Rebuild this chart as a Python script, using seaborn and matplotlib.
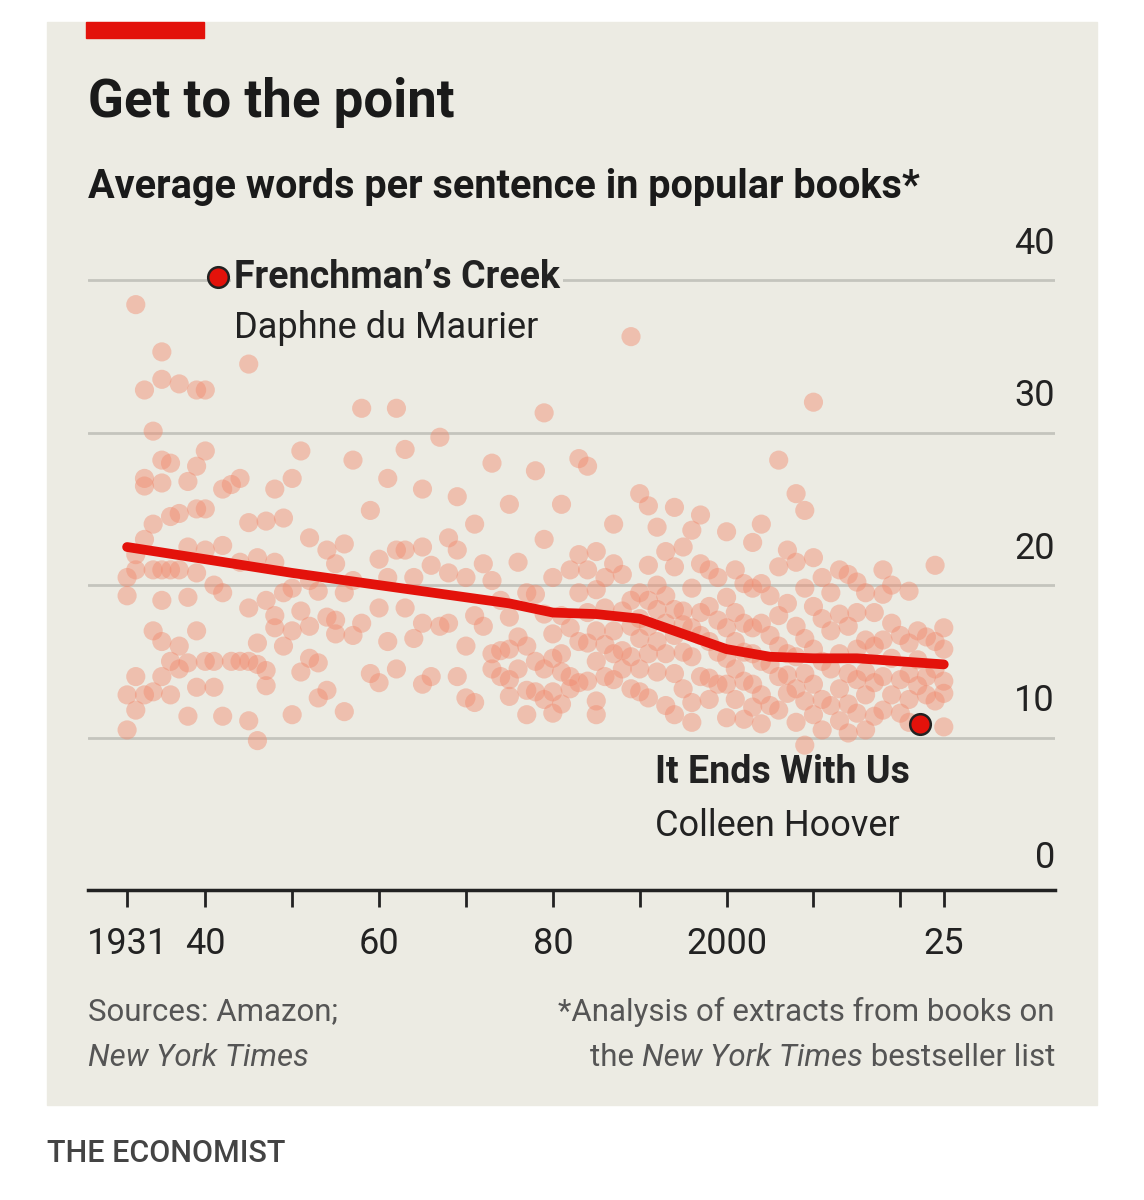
import matplotlib.pyplot as plt
import seaborn as sns
import pandas as pd

# scatter points: year -> average words per sentence
points = {
    1931: [20.5, 19.3, 12.8, 10.5], 1932: [38.4, 22, 21, 14, 11.8],
    1933: [32.8, 27, 26.5, 23, 12.8], 1934: [30.1, 24, 21, 17, 13],
    1935: [35.3, 33.5, 28.2, 26.7, 21, 19, 16.3, 14], 1936: [28, 24.5, 21, 15, 12.8],
    1937: [33.2, 24.7, 21, 16, 14.5], 1938: [26.8, 22.5, 19.2, 14.9, 11.4],
    1939: [32.8, 27.8, 25, 20.8, 17, 13.3], 1940: [32.8, 28.8, 25, 22.3, 15],
    1941: [20, 15, 13.3], 1942: [26.3, 22.6, 19.5, 11.4], 1943: [26.6, 15],
    1944: [27, 21.5, 15], 1945: [34.5, 24.1, 18.5, 15, 11.1], 1946: [21.8, 16.2, 14.8, 9.8],
    1947: [24.2, 19, 14.4, 13.4], 1948: [26.3, 21.5, 18, 17.2], 1949: [24.4, 19.5, 16],
    1950: [27, 19.8, 17, 11.5], 1951: [28.8, 18.3, 14.3], 1952: [23.1, 20.3, 17.3, 15.2],
    1953: [19.6, 14.9, 12.6], 1954: [22.3, 17.9, 13.1], 1955: [21.4, 17.7, 16.8],
    1956: [22.7, 19.5, 11.7], 1957: [28.2, 20.3, 16.7], 1958: [31.6, 17.5], 1959: [24.9, 14.2],
    1960: [21.7, 18.5, 13.6], 1961: [27, 20.5, 16.3], 1962: [31.6, 22.3, 14.5],
    1963: [28.9, 22.3, 18.5], 1964: [20.5, 16.5], 1965: [26.3, 22.5, 17.5, 13.5],
    1966: [21.3, 14], 1967: [29.7, 17.3], 1968: [23.1, 20.8, 17.5], 1969: [25.8, 22.3, 14],
    1970: [20.5, 16, 12.6], 1971: [24, 18, 12.3], 1972: [21.4, 17.3],
    1973: [28, 20.3, 15.5, 14.5], 1974: [19, 15.7, 14], 1975: [25.3, 17.9, 15.8, 13.8, 12.7],
    1976: [21.5, 16.6, 14.5], 1977: [19.5, 16, 13.1, 11.5], 1978: [27.5, 19.4, 15, 13],
    1979: [31.3, 23, 18.1, 14.5, 12.5], 1980: [20.5, 16.8, 15.2, 13, 11.6],
    1981: [25.3, 18, 15.5, 14.3, 12.2], 1982: [21, 17.2, 14, 13.2],
    1983: [28.3, 22, 19.5, 16.3, 13.6], 1984: [27.8, 21, 18.2, 16.2, 13.7],
    1985: [22.2, 19.7, 17, 15, 12.4, 11.5], 1986: [20.5, 18.5, 16.1, 14],
    1987: [24, 21.4, 17, 15.5, 13.8], 1988: [20.7, 18.3, 15.7, 14.5],
    1989: [36.3, 19, 17.3, 15.3, 13.2], 1990: [26, 19.5, 17.8, 16.5, 14.5, 13],
    1991: [25.2, 21.3, 19, 17.3, 15.5, 12.6], 1992: [23.8, 20, 18.4, 16.3, 14.3],
    1993: [22.2, 19.3, 17.5, 15.5, 12.1], 1994: [25.1, 21.2, 18.4, 16.7, 14.2, 11.5],
    1995: [22.5, 18.3, 17.4, 15.6, 13.2], 1996: [23.6, 19.8, 17.2, 15.3, 12.3, 11],
    1997: [24.6, 21.4, 18.2, 16.7, 14], 1998: [21, 18.6, 16.3, 13.9, 12.5],
    1999: [20.5, 17.7, 15.6, 13.5], 2000: [23.5, 19.2, 17.2, 15.2, 13.5, 11.3],
    2001: [21, 18.2, 16.3, 14.5, 12.5], 2002: [20.1, 17.5, 15.6, 13.7, 11.2],
    2003: [22.8, 19.8, 17.2, 15.5, 13.5, 12], 2004: [24, 20.1, 17.5, 15, 12.8, 10.9],
    2005: [19.3, 16.7, 14.8, 12.1], 2006: [28.2, 21.2, 18, 16, 14, 11.8],
    2007: [22.3, 18.8, 15.5, 14.1, 12.9], 2008: [26, 21.5, 17.3, 15.3, 13.2, 11],
    2009: [24.9, 19.8, 16.5, 14.2, 12.4, 9.5], 2010: [32, 21.8, 18.6, 15.8, 13.5, 11.5],
    2011: [20.5, 17.8, 15, 12.5, 10.5], 2012: [19.5, 17, 14.5, 12.1],
    2013: [21, 18.1, 15.5, 13.2, 11.1], 2014: [20.7, 17.3, 14.2, 12.2, 10.3],
    2015: [20.2, 18.2, 15.8, 13.8, 11.6], 2016: [19.5, 16.4, 14.3, 12.8, 10.5],
    2017: [18.2, 16, 13.6, 11.4], 2018: [21, 19.4, 16.4, 14, 11.8],
    2019: [20, 17.5, 15.2, 12.8], 2020: [16.7, 13.8, 11.6],
    2021: [19.6, 16.2, 14.2, 12.5, 11], 2022: [17, 15.1, 13.4], 2023: [16.6, 14, 12.8],
    2024: [21.3, 16.3, 14.5, 12.4], 2025: [17.2, 15.8, 13.7, 12.9, 10.7],
}
trend_years = [1931, 1940, 1950, 1960, 1970, 1975, 1980, 1985, 1990, 1995, 2000, 2005, 2010, 2015, 2020, 2025]
trend_values = [22.5, 21.7, 20.8, 20.0, 19.2, 18.8, 18.2, 18.1, 17.8, 16.8, 15.8, 15.3, 15.2, 15.2, 15.0, 14.8]
highlight_years = [1941.5, 2022.3]
highlight_values = [40.2, 10.9]
x_ticks = [1931, 1940, 1950, 1960, 1970, 1980, 1990, 2000, 2010, 2020, 2025]
x_labels = {1931: "1931", 1940: "40", 1960: "60", 1980: "80", 2000: "2000", 2025: "25"}
y_ticks = [0, 10, 20, 30, 40]

df = pd.DataFrame([(y, v) for y, vs in points.items() for v in vs], columns=["year", "words"])

BG = "#ecebe3"
RED = "#e3120b"
INK = "#222222"
sns.set_style("white")
plt.rcParams['font.family'] = ['Roboto', 'DejaVu Sans']

fig = plt.figure(figsize=(11.44, 12), dpi=100)
fig.patch.set_facecolor("white")
fig.patches.append(plt.Rectangle((47/1144, 1-1105/1200), 1050/1144, 1083/1200,
                                 transform=fig.transFigure, color=BG, zorder=-10))
fig.patches.append(plt.Rectangle((86/1144, 1-38/1200), 118/1144, 16/1200,
                                 transform=fig.transFigure, color=RED, zorder=-5))

ax = fig.add_axes([88/1144, 1-890/1200, 967/1144, 625/1200])
ax.set_facecolor(BG)
ax.set_xlim(1926.5, 2037.8)
ax.set_ylim(0, 41)

for v in y_ticks[1:]:
    ax.axhline(v, color="#c4c4bd", lw=2, zorder=0)
    ax.text(2037.8, v + 1.2, str(v), ha="right", va="bottom", fontsize=26, color=INK)
ax.text(2037.8, 0.9, "0", ha="right", va="bottom", fontsize=26, color=INK)

sns.scatterplot(data=df, x="year", y="words", ax=ax, s=190, color="#f28a6e",
                alpha=0.45, edgecolor="none", zorder=2)
sns.lineplot(x=trend_years, y=trend_values, ax=ax, color=RED, lw=7, zorder=3)
ax.scatter(highlight_years, highlight_values, s=220, color=RED, edgecolor=INK,
           linewidth=1.8, zorder=5)

ax.text(1943.3, 40.2, "Frenchman’s Creek", fontsize=27, fontweight="bold", va="center",
        color=INK, zorder=6, bbox=dict(facecolor=BG, edgecolor="none", pad=2))
ax.text(1943.3, 36.9, "Daphne du Maurier", fontsize=26, va="center", color=INK)
ax.text(1991.8, 7.7, "It Ends With Us", fontsize=27, fontweight="bold",
        va="center", color=INK)
ax.text(1991.8, 4.2, "Colleen Hoover", fontsize=26, va="center", color=INK)

sns.despine(ax=ax, left=True, top=True, right=True)
ax.spines["bottom"].set_linewidth(2.5)
ax.spines["bottom"].set_color(INK)
ax.set_yticks([])
ax.set_xticks(x_ticks)
ax.set_xticklabels([x_labels.get(t, "") for t in x_ticks], fontsize=26, color=INK)
ax.tick_params(axis="x", bottom=True, length=12, width=2, color=INK, pad=14, direction="out")
ax.set_xlabel("")
ax.set_ylabel("")

fig.text(88/1144, 1-103/1200, "Get to the point", fontsize=38, fontweight="bold",
         va="center", color="#1a1a1a")
fig.text(88/1144, 1-187/1200, "Average words per sentence in popular books*", fontsize=28.5,
         fontweight="bold", va="center", color="#1a1a1a")
fig.text(88/1144, 1-1012/1200, "Sources: Amazon;", fontsize=22.5, va="center", color="#555555")
fig.text(88/1144, 1-1058/1200, "New York Times", fontsize=22.5, va="center", style="italic",
         color="#555555")
fig.text(1055/1144, 1-1012/1200, "*Analysis of extracts from books on", fontsize=22.5,
         ha="right", va="center", color="#555555")

# second footnote line: mixed roman / italic, laid out right to left
fig.canvas.draw()
r = fig.canvas.get_renderer()
xr = 1055
for txt, st in [(" bestseller list", "normal"), ("New York Times", "italic"), ("the ", "normal")]:
    t = fig.text(xr/1144, 1-1058/1200, txt, fontsize=22.5, ha="right", va="center",
                 style=st, color="#555555")
    xr -= t.get_window_extent(r).width
fig.text(47/1144, 1-1153/1200, "THE ECONOMIST", fontsize=22, va="center", color="#444444",
         fontweight="medium")

fig.savefig("out.png", dpi=100, facecolor="white")
